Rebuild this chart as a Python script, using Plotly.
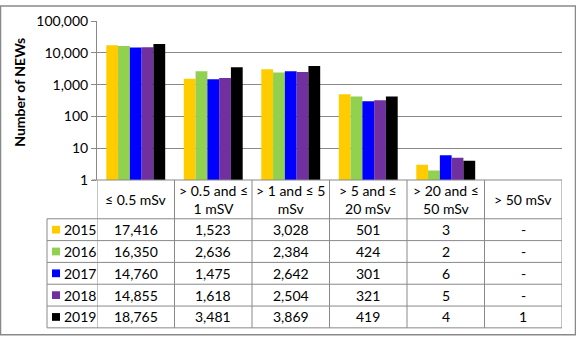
import plotly.graph_objects as go

# Dose bands (table header uses line breaks)
categories = ["≤ 0.5 mSv", "> 0.5 and ≤ 1 mSV", "> 1 and ≤ 5 mSv",
              "> 5 and ≤ 20 mSv", "> 20 and ≤ 50 mSv", "> 50 mSv"]
header_labels = ["≤ 0.5 mSv", "> 0.5 and ≤<br>1 mSV", "> 1 and ≤ 5<br>mSv",
                 "> 5 and ≤<br>20 mSv", "> 20 and ≤<br>50 mSv", "> 50 mSv"]

years = ["2015", "2016", "2017", "2018", "2019"]
values_2015 = [17416, 1523, 3028, 501, 3, None]
values_2016 = [16350, 2636, 2384, 424, 2, None]
values_2017 = [14760, 1475, 2642, 301, 6, None]
values_2018 = [14855, 1618, 2504, 321, 5, None]
values_2019 = [18765, 3481, 3869, 419, 4, 1]
series = [values_2015, values_2016, values_2017, values_2018, values_2019]
colors = ["#FFCC00", "#92D050", "#0000FF", "#7030A0", "#000000"]

tick_values = [1, 10, 100, 1000, 10000, 100000]
tick_labels = ["1", "10", "100", "1,000", "10,000", "100,000"]

FONT = "Lato, Carlito, Calibri, 'Open Sans', sans-serif"
FS = 14
GRID = "#898989"

W, H = 576, 340
L, R, T, B = 97, 14, 16, 160
PW, PH = W - L - R, H - T - B


def px(xp):
    return (xp - L) / PW


def py(yp):
    return (H - B - yp) / PH


fig = go.Figure()
for name, vals, col in zip(years, series, colors):
    fig.add_trace(go.Bar(x=categories, y=vals, name=name, marker_color=col,
                         marker_line_width=0, showlegend=False))

shapes = []
annotations = []

# Table geometry (pixel rows)
header_top, header_bottom = 180, 220
row_h = 22.5
row_edges = [header_bottom + i * row_h for i in range(len(years) + 1)]
table_bottom = row_edges[-1]
line = dict(color=GRID, width=1)

# horizontal rules
shapes.append(dict(type="line", xref="paper", yref="paper", x0=px(92), x1=1,
                   y0=py(header_top), y1=py(header_top), line=line))
for yy in row_edges:
    shapes.append(dict(type="line", xref="paper", yref="paper", x0=px(47), x1=1,
                       y0=py(yy), y1=py(yy), line=line))
# vertical rules at category boundaries
for i in range(len(categories) + 1):
    shapes.append(dict(type="line", xref="x", yref="paper", x0=i - 0.5, x1=i - 0.5,
                       y0=py(header_top), y1=py(table_bottom), line=line))
shapes.append(dict(type="line", xref="paper", yref="paper", x0=px(47), x1=px(47),
                   y0=py(header_bottom), y1=py(table_bottom), line=line))

# header labels
for cat, lab in zip(categories, header_labels):
    annotations.append(dict(x=cat, xref="x", y=py((header_top + header_bottom) / 2),
                            yref="paper", text=lab, showarrow=False,
                            xanchor="center", yanchor="middle",
                            font=dict(family=FONT, size=FS, color="#000")))

# rows: legend key, year, values
for r, (name, vals, col) in enumerate(zip(years, series, colors)):
    yc = (row_edges[r] + row_edges[r + 1]) / 2
    shapes.append(dict(type="rect", xref="paper", yref="paper",
                       x0=px(52), x1=px(60), y0=py(yc + 4), y1=py(yc - 4),
                       fillcolor=col, line=dict(width=0)))
    annotations.append(dict(x=px(62), xref="paper", y=py(yc), yref="paper",
                            text=name, showarrow=False, xanchor="left",
                            yanchor="middle",
                            font=dict(family=FONT, size=FS, color="#000")))
    for cat, v in zip(categories, vals):
        annotations.append(dict(x=cat, xref="x", y=py(yc), yref="paper",
                                text=f"{v:,}" if v is not None else "-",
                                showarrow=False, xanchor="center", yanchor="middle",
                                font=dict(family=FONT, size=FS, color="#000")))

# axis title
annotations.append(dict(x=px(20), xref="paper", y=py(90), yref="paper",
                        text="<b>Number of NEWs</b>", textangle=-90, showarrow=False,
                        xanchor="center", yanchor="middle",
                        font=dict(family=FONT, size=FS, color="#000")))

# outer chart border
shapes.append(dict(type="rect", xref="paper", yref="paper",
                   x0=px(0.5), x1=px(W - 0.5), y0=py(H - 0.5), y1=py(0.5),
                   line=dict(color=GRID, width=1.5), fillcolor="rgba(0,0,0,0)"))

fig.update_layout(
    width=W, height=H,
    margin=dict(l=L, r=R, t=T, b=B, pad=0),
    paper_bgcolor="white", plot_bgcolor="white",
    barmode="group", bargap=0.24, bargroupgap=0,
    font=dict(family=FONT, size=FS, color="#000"),
    shapes=shapes, annotations=annotations,
    xaxis=dict(type="category", range=[-0.5, len(categories) - 0.5],
               showticklabels=False, showgrid=False, showline=False,
               zeroline=False, ticks=""),
    yaxis=dict(type="log", range=[0, 5], tickmode="array",
               tickvals=tick_values, ticktext=tick_labels,
               showgrid=True, gridcolor=GRID, gridwidth=1,
               showline=True, linecolor=GRID, linewidth=1,
               ticks="outside", ticklen=5, tickcolor=GRID,
               zeroline=False, tickfont=dict(family=FONT, size=FS, color="#000")),
)

fig.write_html("out.html")
